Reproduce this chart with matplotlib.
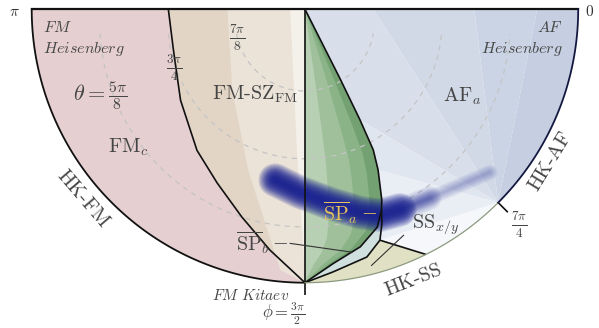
import numpy as np
import matplotlib
matplotlib.use("Agg")
import matplotlib.pyplot as plt

plt.rcParams['mathtext.fontset'] = 'cm'

# ---------------- data: phi and theta in units of pi ----------------
# FM_c / FM-SZ boundary
phi_fmc = [1.000, 1.096, 1.201, 1.292, 1.351, 1.406, 1.454, 1.500]
theta_fmc = [0.750, 0.748, 0.718, 0.675, 0.644, 0.603, 0.555, 0.500]
# shading bands inside FM-SZ_FM
phi_sz_mid = [1.000, 1.267, 1.392, 1.470, 1.500]
theta_sz_mid = [0.858, 0.801, 0.688, 0.521, 0.500]
phi_sz_light = [1.000, 1.482, 1.498, 1.500]
theta_sz_light = [0.973, 0.742, 0.560, 0.500]
# SP_a upper boundary (towards AF_a)
phi_sp_top = [1.500, 1.649, 1.647, 1.644, 1.636, 1.622, 1.616]
theta_sp_top = [1.000, 0.858, 0.774, 0.714, 0.677, 0.624, 0.607]
# SP_a lower boundary
phi_sp_low = [1.616, 1.602, 1.573, 1.535, 1.500]
theta_sp_low = [0.607, 0.580, 0.554, 0.532, 0.500]
# boundary towards SS / HK-SS
phi_ss_b = [1.616, 1.610, 1.600, 1.578, 1.534, 1.500]
theta_ss_b = [0.607, 0.584, 0.556, 0.533, 0.517, 0.500]
# HK-SS / SS line
phi_hkss = [1.600, 1.646]
theta_hkss = [0.556, 0.500]
phi_tick = 1.75
# AF fan: top-edge theta values at phi = 2pi
theta_af_top = [0.575, 0.690, 0.875]
# blue intensity ridge
phi_blob = [1.445, 1.492, 1.541, 1.584, 1.611, 1.641, 1.686, 1.730, 1.770]
theta_blob = [0.683, 0.665, 0.642, 0.615, 0.599, 0.594, 0.586, 0.571, 0.549]
# dashed theta circles
theta_circ = [5/8, 3/4, 7/8]

# ---------------- helpers ----------------
def xy(phi, theta):
    phi = np.atleast_1d(np.asarray(phi, float)) * np.pi
    theta = np.atleast_1d(np.asarray(theta, float))
    rho = 2 * (1 - theta)
    return rho * np.cos(phi), rho * np.sin(phi)

def arc(p0, p1, th=0.5, n=120):
    ph = np.linspace(p0, p1, n)
    return xy(ph, np.full(n, th))

def cat(*parts):
    xs = np.concatenate([p[0] for p in parts])
    ys = np.concatenate([p[1] for p in parts])
    return xs, ys

W, H = 599, 328
fig = plt.figure(figsize=(W/100, H/100), dpi=100)
ax = fig.add_axes([31.7/W, (H-282.7)/H, 546.5/W, 273.5/H])
ax.set_xlim(-1, 1)
ax.set_ylim(-1, 0)
ax.axis('off')

def fill(pts, color, z=1):
    ax.fill(pts[0], pts[1], color=color, lw=0, zorder=z)

# ---------------- FM side ----------------
fill(cat(arc(1.0, 1.5), xy(phi_fmc[::-1], theta_fmc[::-1])), '#e6cfd1')
center = xy([1.5], [1.0])
fill(cat(center, xy(phi_fmc, theta_fmc)), '#e2d5c5')
fill(cat(center, xy(phi_sz_mid, theta_sz_mid)), '#ebe3d8')
fill(cat(center, xy(phi_sz_light, theta_sz_light)), '#f4f0ea')

# ---------------- AF / SS side (fan from 7pi/4 edge point) ----------------
apex = xy([phi_tick], [0.5])
top = [xy([2.0], [t]) for t in theta_af_top]
sp = list(zip(phi_sp_top, theta_sp_top))
fill(cat(arc(1.75, 2.0), top[0]), '#c5cfe1')
fill(cat(apex, top[0], top[1]), '#cbd4e4')
fill(cat(apex, top[1], top[2]), '#d1d9e7')
fill(cat(apex, top[2], center, xy([sp[2][0]], [sp[2][1]])), '#d8dfeb')
fill(cat(apex, xy(phi_sp_top[2:5], theta_sp_top[2:5])), '#e0e6ef')
fill(cat(apex, xy(phi_sp_top[4:], theta_sp_top[4:]), xy(phi_ss_b[1:3], theta_ss_b[1:3])), '#e9edf4')
fill(cat(xy([phi_hkss[0]], [theta_hkss[0]]), arc(phi_hkss[1], 1.75)), '#f5f7fb')

# ---------------- SP_a (green) with angular shading ----------------
bphi = np.array(phi_sp_top + phi_sp_low[1:])
bth = np.array(theta_sp_top + theta_sp_low[1:])
for f, c in [(1.0, '#73a172'), (0.84, '#8ab387'), (0.63, '#a0c09c'), (0.3, '#b7cfb2')]:
    fill(xy(1.5 + f*(bphi - 1.5), bth), c, z=2)
# thin region between the two lower boundaries
fill(cat(xy(phi_ss_b, theta_ss_b), xy(phi_sp_low[::-1], theta_sp_low[::-1])), '#cfe0df', z=2)
# HK-SS region
fill(cat(xy(phi_ss_b[2:], theta_ss_b[2:]), arc(1.5, phi_hkss[1])), '#e0e0c4', z=2)

# ---------------- dashed theta circles ----------------
delta = 0.045
for th in theta_circ:
    r_top = 2 * (1 - th)
    rc = np.hypot(r_top, delta)
    t0 = np.arcsin(delta / rc)
    tt = np.linspace(np.pi + t0, 2*np.pi - t0, 200)
    ax.plot(rc*np.cos(tt), -delta + rc*np.sin(tt), color='#c4c4c4', lw=0.9,
            dashes=(4, 4), zorder=3)

# ---------------- blue ridge (soft, layered) ----------------
bx, by = xy(phi_blob, theta_blob)
navy = '#1b2391'
lkw = dict(color=navy, solid_capstyle='round', solid_joinstyle='round', zorder=4)
for lw in np.linspace(11, 1.5, 8):          # faint tail along the whole ridge
    ax.plot(bx, by, lw=lw, alpha=0.045, **lkw)
for lw in np.linspace(17, 2, 10):           # middle part
    ax.plot(bx[:7], by[:7], lw=lw, alpha=0.06, **lkw)
for lw in np.linspace(24, 2, 14):           # dense core
    ax.plot(bx[:6], by[:6], lw=lw, alpha=0.16, **lkw)

# ---------------- boundaries ----------------
kw = dict(color='#111111', lw=1.2, zorder=6, clip_on=False, solid_capstyle='butt')
ax.plot(*xy(phi_fmc, theta_fmc), **kw)
ax.plot(*xy(phi_sp_top, theta_sp_top), **kw)
ax.plot(*xy(phi_sp_low, theta_sp_low), **kw)
ax.plot(*xy(phi_ss_b, theta_ss_b), **kw)
ax.plot(*xy(phi_hkss, theta_hkss), **kw)
ax.plot(*xy([1.5, 1.5], [1.0, 0.477]), **kw)
ax.plot(*xy([phi_tick, phi_tick], [0.5, 0.475]), **kw)
ax.plot(*cat(xy([1.0], [0.5]), xy([2.0], [0.5])), color='#111111', lw=1.6, zorder=6, clip_on=False)
ax.plot(*arc(1.0, 1.5), color='#111111', lw=1.3, zorder=6, clip_on=False)
ax.plot(*arc(1.5, phi_tick), color='#8c9a7e', lw=0.9, zorder=6, clip_on=False)
ax.plot(*arc(phi_tick, 2.0), color='#141840', lw=1.3, zorder=6, clip_on=False)

# leader lines
ax.plot(*xy([1.480, 1.561], [0.571, 0.5475]), color='#333333', lw=0.8, zorder=6)
ax.plot(*xy([1.581, 1.631], [0.516, 0.549]), color='#333333', lw=0.8, zorder=6)

# ---------------- texts ----------------
tc = '#454545'
def t(px, py, s, size=14, color=tc, rot=0, ha='center', **k):
    fig.text(px/W, 1 - py/H, s, ha=ha, va='center', fontsize=size, color=color,
             rotation=rot, rotation_mode='anchor', **k)

t(14, 12, r'$\pi$', 11, '#333333')
t(590, 11, r'$0$', 11, '#333333')
t(43, 28, r'$\mathit{FM}$', 11.5, ha='left')
t(43, 49, r'$\mathit{Heisenberg}$', 11.5, ha='left')
t(563, 28, r'$\mathit{AF}$', 11.5, ha='right')
t(563, 49, r'$\mathit{Heisenberg}$', 11.5, ha='right')
t(100, 96, r'$\theta=\frac{5\pi}{8}$', 16)
t(174, 68, r'$\frac{3\pi}{4}$', 13.5)
t(237, 38, r'$\frac{7\pi}{8}$', 13.5)
t(255, 94, r'FM-SZ$_{\mathrm{FM}}$', 14.5, family='cmr10')
t(128, 147, r'FM$_c$', 14.5, family='cmr10')
t(462, 96, r'AF$_a$', 14.5, family='cmr10')
t(83, 199, 'HK-FM', 14.5, rot=-49.4, family='cmr10')
t(550, 161, 'HK-AF', 14.5, rot=58.5, family='cmr10')
t(413, 280, 'HK-SS', 14.5, rot=21.7, family='cmr10')
t(436, 224, r'SS$_{x/y}$', 14.5, family='cmr10')
t(350, 213, r'$\overline{\mathrm{SP}}_a-$', 14.5, '#e8c35c')
t(262, 243, r'$\overline{\mathrm{SP}}_b-$', 14.5)
t(519, 225, r'$\frac{7\pi}{4}$', 13.5)
t(251, 295, r'$\mathit{FM\ Kitaev}$', 11)
t(284, 314, r'$\phi=\frac{3\pi}{2}$', 12)

fig.savefig('out.png', dpi=100)
